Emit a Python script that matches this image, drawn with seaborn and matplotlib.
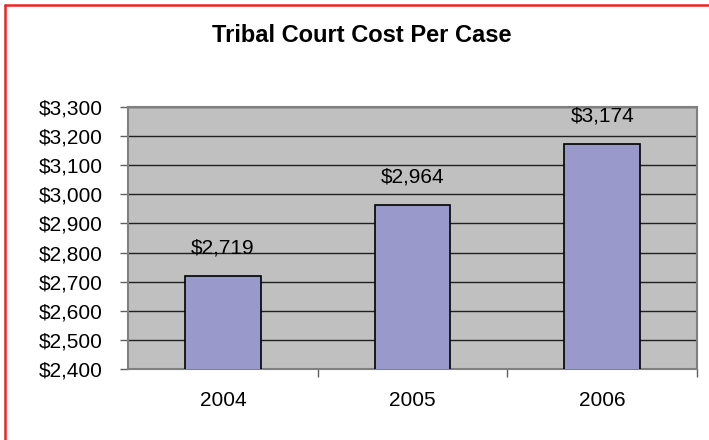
import matplotlib
matplotlib.use("Agg")
import matplotlib.pyplot as plt
import seaborn as sns
import pandas as pd
from matplotlib.lines import Line2D
from matplotlib.ticker import FuncFormatter, FixedLocator

years = ["2004", "2005", "2006"]
cost = [2719, 2964, 3174]
yticks = [2400, 2500, 2600, 2700, 2800, 2900, 3000, 3100, 3200, 3300]

sns.set_theme(style="white")
plt.rcParams['font.family'] = ['Liberation Sans', 'DejaVu Sans']

df = pd.DataFrame({"year": years, "cost": cost})

fig = plt.figure(figsize=(7.09, 4.40), dpi=100)
ax = fig.add_axes([128/709, 1 - 369/440, (697-128)/709, (369-107)/440])

ax.set_facecolor("#C0C0C0")
sns.barplot(data=df, x="year", y="cost", ax=ax, color="#9999CC",
            saturation=1, width=0.4, edgecolor="black", linewidth=1.2, zorder=3)
ax.set_ylim(2400, 3300)
ax.set_xlim(-0.5, 2.5)
ax.set_yticks(yticks)
ax.yaxis.set_major_formatter(FuncFormatter(lambda v, p: "${:,.0f}".format(v)))
ax.grid(axis="y", color="#202020", linewidth=1, zorder=1)
ax.set_axisbelow(True)
ax.set_xlabel("")
ax.set_ylabel("")

for s in ["top", "right", "left", "bottom"]:
    ax.spines[s].set_color("#808080")
    ax.spines[s].set_linewidth(1.5)

ax.tick_params(axis="y", which="major", left=True, length=6, width=1, color="#606060",
               labelsize=15, pad=12, labelcolor="black")
ax.tick_params(axis="x", which="major", bottom=False, length=0, labelsize=15,
               pad=16, labelcolor="black")
ax.xaxis.set_minor_locator(FixedLocator([0.5, 1.5, 2.5]))
ax.tick_params(axis="x", which="minor", bottom=True, length=6, width=1, color="#606060")

for i, v in enumerate(cost):
    ax.annotate("${:,.0f}".format(v), xy=(i, v), xytext=(0, 20),
                textcoords="offset points", ha="center", va="center",
                fontsize=15, color="black")

fig.text(362/709, 1 - 35/440, "Tribal Court Cost Per Case", ha="center", va="center",
         fontsize=17, fontweight="bold", color="black")

fig.add_artist(Line2D([5/709, 5/709], [0, 1 - 5/440], transform=fig.transFigure,
                      color="#EE2222", linewidth=1.8))
fig.add_artist(Line2D([5/709, 1], [1 - 5/440, 1 - 5/440], transform=fig.transFigure,
                      color="#EE2222", linewidth=1.8))

fig.savefig("out.png", dpi=100)
